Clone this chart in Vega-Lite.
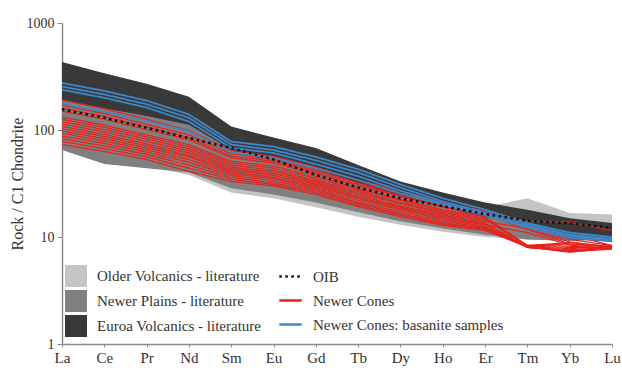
{
  "$schema": "https://vega.github.io/schema/vega-lite/v6.json",
  "width": 550,
  "height": 321,
  "autosize": "none",
  "padding": {"left": 62, "top": 23, "right": 10, "bottom": 24},
  "background": "white",
  "config": {
    "view": {"stroke": null},
    "font": "Liberation Serif",
    "axis": {
      "labelFont": "Liberation Serif",
      "titleFont": "Liberation Serif",
      "labelColor": "#333333",
      "titleColor": "#333333",
      "domainColor": "#8c8c8c",
      "tickColor": "#8c8c8c",
      "domainWidth": 1.5,
      "grid": false
    },
    "legend": {
      "labelFont": "Liberation Serif",
      "labelFontSize": 15,
      "labelColor": "#333333",
      "labelLimit": 400,
      "padding": 0,
      "orient": "none",
      "direction": "vertical",
      "rowPadding": 3,
      "labelOffset": 10
    }
  },
  "datasets": {
    "bands": [
      {"unit": "Older Volcanics - literature", "el": "La", "lo": 70, "hi": 172},
      {"unit": "Older Volcanics - literature", "el": "Ce", "lo": 55, "hi": 146},
      {"unit": "Older Volcanics - literature", "el": "Pr", "lo": 46, "hi": 121},
      {"unit": "Older Volcanics - literature", "el": "Nd", "lo": 38, "hi": 100},
      {"unit": "Older Volcanics - literature", "el": "Sm", "lo": 26, "hi": 62},
      {"unit": "Older Volcanics - literature", "el": "Eu", "lo": 23, "hi": 55},
      {"unit": "Older Volcanics - literature", "el": "Gd", "lo": 19, "hi": 42},
      {"unit": "Older Volcanics - literature", "el": "Tb", "lo": 15.5, "hi": 32},
      {"unit": "Older Volcanics - literature", "el": "Dy", "lo": 13, "hi": 25},
      {"unit": "Older Volcanics - literature", "el": "Ho", "lo": 11.2, "hi": 21},
      {"unit": "Older Volcanics - literature", "el": "Er", "lo": 10, "hi": 19},
      {"unit": "Older Volcanics - literature", "el": "Tm", "lo": 9.5, "hi": 23},
      {"unit": "Older Volcanics - literature", "el": "Yb", "lo": 9.3, "hi": 16.8},
      {"unit": "Older Volcanics - literature", "el": "Lu", "lo": 9.5, "hi": 16.2},
      {"unit": "Newer Plains - literature", "el": "La", "lo": 65, "hi": 190},
      {"unit": "Newer Plains - literature", "el": "Ce", "lo": 48, "hi": 165},
      {"unit": "Newer Plains - literature", "el": "Pr", "lo": 44, "hi": 140},
      {"unit": "Newer Plains - literature", "el": "Nd", "lo": 40, "hi": 115},
      {"unit": "Newer Plains - literature", "el": "Sm", "lo": 28.5, "hi": 68},
      {"unit": "Newer Plains - literature", "el": "Eu", "lo": 25, "hi": 58},
      {"unit": "Newer Plains - literature", "el": "Gd", "lo": 21, "hi": 45},
      {"unit": "Newer Plains - literature", "el": "Tb", "lo": 17, "hi": 34},
      {"unit": "Newer Plains - literature", "el": "Dy", "lo": 14, "hi": 25},
      {"unit": "Newer Plains - literature", "el": "Ho", "lo": 12, "hi": 20},
      {"unit": "Newer Plains - literature", "el": "Er", "lo": 10.5, "hi": 16},
      {"unit": "Newer Plains - literature", "el": "Tm", "lo": 9.5, "hi": 13},
      {"unit": "Newer Plains - literature", "el": "Yb", "lo": 9.2, "hi": 12.5},
      {"unit": "Newer Plains - literature", "el": "Lu", "lo": 9.5, "hi": 12},
      {"unit": "Euroa Volcanics - literature", "el": "La", "lo": 190, "hi": 432},
      {"unit": "Euroa Volcanics - literature", "el": "Ce", "lo": 160, "hi": 340},
      {"unit": "Euroa Volcanics - literature", "el": "Pr", "lo": 135, "hi": 270},
      {"unit": "Euroa Volcanics - literature", "el": "Nd", "lo": 112, "hi": 205},
      {"unit": "Euroa Volcanics - literature", "el": "Sm", "lo": 65, "hi": 108},
      {"unit": "Euroa Volcanics - literature", "el": "Eu", "lo": 56, "hi": 85},
      {"unit": "Euroa Volcanics - literature", "el": "Gd", "lo": 43, "hi": 68},
      {"unit": "Euroa Volcanics - literature", "el": "Tb", "lo": 32, "hi": 47},
      {"unit": "Euroa Volcanics - literature", "el": "Dy", "lo": 24, "hi": 33},
      {"unit": "Euroa Volcanics - literature", "el": "Ho", "lo": 19, "hi": 26},
      {"unit": "Euroa Volcanics - literature", "el": "Er", "lo": 15.5, "hi": 21},
      {"unit": "Euroa Volcanics - literature", "el": "Tm", "lo": 12.8, "hi": 18},
      {"unit": "Euroa Volcanics - literature", "el": "Yb", "lo": 9.6, "hi": 15},
      {"unit": "Euroa Volcanics - literature", "el": "Lu", "lo": 9, "hi": 13.5}
    ],
    "samples": [
      {"series": "OIB", "sample": "OIB", "el": "La", "v": 156},
      {"series": "OIB", "sample": "OIB", "el": "Ce", "v": 130},
      {"series": "OIB", "sample": "OIB", "el": "Pr", "v": 105},
      {"series": "OIB", "sample": "OIB", "el": "Nd", "v": 84},
      {"series": "OIB", "sample": "OIB", "el": "Sm", "v": 68},
      {"series": "OIB", "sample": "OIB", "el": "Eu", "v": 53},
      {"series": "OIB", "sample": "OIB", "el": "Gd", "v": 38},
      {"series": "OIB", "sample": "OIB", "el": "Tb", "v": 29},
      {"series": "OIB", "sample": "OIB", "el": "Dy", "v": 23},
      {"series": "OIB", "sample": "OIB", "el": "Ho", "v": 19.4},
      {"series": "OIB", "sample": "OIB", "el": "Er", "v": 16.4},
      {"series": "OIB", "sample": "OIB", "el": "Tm", "v": 14.2},
      {"series": "OIB", "sample": "OIB", "el": "Yb", "v": 13.4},
      {"series": "OIB", "sample": "OIB", "el": "Lu", "v": 12.2},

      {"series": "Newer Cones: basanite samples", "sample": "B1", "el": "La", "v": 275},
      {"series": "Newer Cones: basanite samples", "sample": "B1", "el": "Ce", "v": 232},
      {"series": "Newer Cones: basanite samples", "sample": "B1", "el": "Pr", "v": 188},
      {"series": "Newer Cones: basanite samples", "sample": "B1", "el": "Nd", "v": 140},
      {"series": "Newer Cones: basanite samples", "sample": "B1", "el": "Sm", "v": 78},
      {"series": "Newer Cones: basanite samples", "sample": "B1", "el": "Eu", "v": 70},
      {"series": "Newer Cones: basanite samples", "sample": "B1", "el": "Gd", "v": 56},
      {"series": "Newer Cones: basanite samples", "sample": "B1", "el": "Tb", "v": 43},
      {"series": "Newer Cones: basanite samples", "sample": "B1", "el": "Dy", "v": 31},
      {"series": "Newer Cones: basanite samples", "sample": "B1", "el": "Ho", "v": 23},
      {"series": "Newer Cones: basanite samples", "sample": "B1", "el": "Er", "v": 18},
      {"series": "Newer Cones: basanite samples", "sample": "B1", "el": "Tm", "v": 13.5},
      {"series": "Newer Cones: basanite samples", "sample": "B1", "el": "Yb", "v": 11},
      {"series": "Newer Cones: basanite samples", "sample": "B1", "el": "Lu", "v": 10},
      {"series": "Newer Cones: basanite samples", "sample": "B2", "el": "La", "v": 255},
      {"series": "Newer Cones: basanite samples", "sample": "B2", "el": "Ce", "v": 215},
      {"series": "Newer Cones: basanite samples", "sample": "B2", "el": "Pr", "v": 174},
      {"series": "Newer Cones: basanite samples", "sample": "B2", "el": "Nd", "v": 130},
      {"series": "Newer Cones: basanite samples", "sample": "B2", "el": "Sm", "v": 73},
      {"series": "Newer Cones: basanite samples", "sample": "B2", "el": "Eu", "v": 65},
      {"series": "Newer Cones: basanite samples", "sample": "B2", "el": "Gd", "v": 52},
      {"series": "Newer Cones: basanite samples", "sample": "B2", "el": "Tb", "v": 40},
      {"series": "Newer Cones: basanite samples", "sample": "B2", "el": "Dy", "v": 29},
      {"series": "Newer Cones: basanite samples", "sample": "B2", "el": "Ho", "v": 21.5},
      {"series": "Newer Cones: basanite samples", "sample": "B2", "el": "Er", "v": 17},
      {"series": "Newer Cones: basanite samples", "sample": "B2", "el": "Tm", "v": 13},
      {"series": "Newer Cones: basanite samples", "sample": "B2", "el": "Yb", "v": 10.5},
      {"series": "Newer Cones: basanite samples", "sample": "B2", "el": "Lu", "v": 9.6},
      {"series": "Newer Cones: basanite samples", "sample": "B3", "el": "La", "v": 238},
      {"series": "Newer Cones: basanite samples", "sample": "B3", "el": "Ce", "v": 200},
      {"series": "Newer Cones: basanite samples", "sample": "B3", "el": "Pr", "v": 162},
      {"series": "Newer Cones: basanite samples", "sample": "B3", "el": "Nd", "v": 120},
      {"series": "Newer Cones: basanite samples", "sample": "B3", "el": "Sm", "v": 68},
      {"series": "Newer Cones: basanite samples", "sample": "B3", "el": "Eu", "v": 61},
      {"series": "Newer Cones: basanite samples", "sample": "B3", "el": "Gd", "v": 48},
      {"series": "Newer Cones: basanite samples", "sample": "B3", "el": "Tb", "v": 37},
      {"series": "Newer Cones: basanite samples", "sample": "B3", "el": "Dy", "v": 27},
      {"series": "Newer Cones: basanite samples", "sample": "B3", "el": "Ho", "v": 20.5},
      {"series": "Newer Cones: basanite samples", "sample": "B3", "el": "Er", "v": 16.5},
      {"series": "Newer Cones: basanite samples", "sample": "B3", "el": "Tm", "v": 12.5},
      {"series": "Newer Cones: basanite samples", "sample": "B3", "el": "Yb", "v": 10.2},
      {"series": "Newer Cones: basanite samples", "sample": "B3", "el": "Lu", "v": 9.4},
      {"series": "Newer Cones: basanite samples", "sample": "B4", "el": "La", "v": 175},
      {"series": "Newer Cones: basanite samples", "sample": "B4", "el": "Ce", "v": 148},
      {"series": "Newer Cones: basanite samples", "sample": "B4", "el": "Pr", "v": 122},
      {"series": "Newer Cones: basanite samples", "sample": "B4", "el": "Nd", "v": 97},
      {"series": "Newer Cones: basanite samples", "sample": "B4", "el": "Sm", "v": 62},
      {"series": "Newer Cones: basanite samples", "sample": "B4", "el": "Eu", "v": 55},
      {"series": "Newer Cones: basanite samples", "sample": "B4", "el": "Gd", "v": 44},
      {"series": "Newer Cones: basanite samples", "sample": "B4", "el": "Tb", "v": 34},
      {"series": "Newer Cones: basanite samples", "sample": "B4", "el": "Dy", "v": 25.5},
      {"series": "Newer Cones: basanite samples", "sample": "B4", "el": "Ho", "v": 20},
      {"series": "Newer Cones: basanite samples", "sample": "B4", "el": "Er", "v": 16},
      {"series": "Newer Cones: basanite samples", "sample": "B4", "el": "Tm", "v": 12.2},
      {"series": "Newer Cones: basanite samples", "sample": "B4", "el": "Yb", "v": 9.8},
      {"series": "Newer Cones: basanite samples", "sample": "B4", "el": "Lu", "v": 9.2},

      {"series": "Newer Cones", "sample": "R1", "el": "La", "v": 190},
      {"series": "Newer Cones", "sample": "R1", "el": "Ce", "v": 158},
      {"series": "Newer Cones", "sample": "R1", "el": "Pr", "v": 126},
      {"series": "Newer Cones", "sample": "R1", "el": "Nd", "v": 99},
      {"series": "Newer Cones", "sample": "R1", "el": "Sm", "v": 64},
      {"series": "Newer Cones", "sample": "R1", "el": "Eu", "v": 57},
      {"series": "Newer Cones", "sample": "R1", "el": "Gd", "v": 45},
      {"series": "Newer Cones", "sample": "R1", "el": "Tb", "v": 34},
      {"series": "Newer Cones", "sample": "R1", "el": "Dy", "v": 27},
      {"series": "Newer Cones", "sample": "R1", "el": "Ho", "v": 21},
      {"series": "Newer Cones", "sample": "R1", "el": "Er", "v": 17.5},
      {"series": "Newer Cones", "sample": "R1", "el": "Tm", "v": 14},
      {"series": "Newer Cones", "sample": "R1", "el": "Yb", "v": 13.8},
      {"series": "Newer Cones", "sample": "R1", "el": "Lu", "v": 11.5},
      {"series": "Newer Cones", "sample": "R2", "el": "La", "v": 170},
      {"series": "Newer Cones", "sample": "R2", "el": "Ce", "v": 142},
      {"series": "Newer Cones", "sample": "R2", "el": "Pr", "v": 113},
      {"series": "Newer Cones", "sample": "R2", "el": "Nd", "v": 90},
      {"series": "Newer Cones", "sample": "R2", "el": "Sm", "v": 60},
      {"series": "Newer Cones", "sample": "R2", "el": "Eu", "v": 53},
      {"series": "Newer Cones", "sample": "R2", "el": "Gd", "v": 42},
      {"series": "Newer Cones", "sample": "R2", "el": "Tb", "v": 32},
      {"series": "Newer Cones", "sample": "R2", "el": "Dy", "v": 25.5},
      {"series": "Newer Cones", "sample": "R2", "el": "Ho", "v": 20},
      {"series": "Newer Cones", "sample": "R2", "el": "Er", "v": 16.5},
      {"series": "Newer Cones", "sample": "R2", "el": "Tm", "v": 12.5},
      {"series": "Newer Cones", "sample": "R2", "el": "Yb", "v": 10.5},
      {"series": "Newer Cones", "sample": "R2", "el": "Lu", "v": 8.3},
      {"series": "Newer Cones", "sample": "R3", "el": "La", "v": 150},
      {"series": "Newer Cones", "sample": "R3", "el": "Ce", "v": 126},
      {"series": "Newer Cones", "sample": "R3", "el": "Pr", "v": 101},
      {"series": "Newer Cones", "sample": "R3", "el": "Nd", "v": 81},
      {"series": "Newer Cones", "sample": "R3", "el": "Sm", "v": 55},
      {"series": "Newer Cones", "sample": "R3", "el": "Eu", "v": 49},
      {"series": "Newer Cones", "sample": "R3", "el": "Gd", "v": 39},
      {"series": "Newer Cones", "sample": "R3", "el": "Tb", "v": 30},
      {"series": "Newer Cones", "sample": "R3", "el": "Dy", "v": 24},
      {"series": "Newer Cones", "sample": "R3", "el": "Ho", "v": 19},
      {"series": "Newer Cones", "sample": "R3", "el": "Er", "v": 16},
      {"series": "Newer Cones", "sample": "R3", "el": "Tm", "v": 11.8},
      {"series": "Newer Cones", "sample": "R3", "el": "Yb", "v": 8.6},
      {"series": "Newer Cones", "sample": "R3", "el": "Lu", "v": 8},
      {"series": "Newer Cones", "sample": "R4", "el": "La", "v": 132},
      {"series": "Newer Cones", "sample": "R4", "el": "Ce", "v": 111},
      {"series": "Newer Cones", "sample": "R4", "el": "Pr", "v": 90},
      {"series": "Newer Cones", "sample": "R4", "el": "Nd", "v": 73},
      {"series": "Newer Cones", "sample": "R4", "el": "Sm", "v": 51},
      {"series": "Newer Cones", "sample": "R4", "el": "Eu", "v": 46},
      {"series": "Newer Cones", "sample": "R4", "el": "Gd", "v": 37},
      {"series": "Newer Cones", "sample": "R4", "el": "Tb", "v": 28.5},
      {"series": "Newer Cones", "sample": "R4", "el": "Dy", "v": 22.5},
      {"series": "Newer Cones", "sample": "R4", "el": "Ho", "v": 18},
      {"series": "Newer Cones", "sample": "R4", "el": "Er", "v": 15.5},
      {"series": "Newer Cones", "sample": "R4", "el": "Tm", "v": 8.3},
      {"series": "Newer Cones", "sample": "R4", "el": "Yb", "v": 8.9},
      {"series": "Newer Cones", "sample": "R4", "el": "Lu", "v": 8.1},
      {"series": "Newer Cones", "sample": "R5", "el": "La", "v": 126},
      {"series": "Newer Cones", "sample": "R5", "el": "Ce", "v": 106},
      {"series": "Newer Cones", "sample": "R5", "el": "Pr", "v": 86},
      {"series": "Newer Cones", "sample": "R5", "el": "Nd", "v": 70},
      {"series": "Newer Cones", "sample": "R5", "el": "Sm", "v": 49},
      {"series": "Newer Cones", "sample": "R5", "el": "Eu", "v": 44},
      {"series": "Newer Cones", "sample": "R5", "el": "Gd", "v": 35.5},
      {"series": "Newer Cones", "sample": "R5", "el": "Tb", "v": 27.5},
      {"series": "Newer Cones", "sample": "R5", "el": "Dy", "v": 22},
      {"series": "Newer Cones", "sample": "R5", "el": "Ho", "v": 17.5},
      {"series": "Newer Cones", "sample": "R5", "el": "Er", "v": 15},
      {"series": "Newer Cones", "sample": "R5", "el": "Tm", "v": 8},
      {"series": "Newer Cones", "sample": "R5", "el": "Yb", "v": 7.6},
      {"series": "Newer Cones", "sample": "R5", "el": "Lu", "v": 8},
      {"series": "Newer Cones", "sample": "R6", "el": "La", "v": 120},
      {"series": "Newer Cones", "sample": "R6", "el": "Ce", "v": 101},
      {"series": "Newer Cones", "sample": "R6", "el": "Pr", "v": 82},
      {"series": "Newer Cones", "sample": "R6", "el": "Nd", "v": 67},
      {"series": "Newer Cones", "sample": "R6", "el": "Sm", "v": 47},
      {"series": "Newer Cones", "sample": "R6", "el": "Eu", "v": 42},
      {"series": "Newer Cones", "sample": "R6", "el": "Gd", "v": 34},
      {"series": "Newer Cones", "sample": "R6", "el": "Tb", "v": 26.5},
      {"series": "Newer Cones", "sample": "R6", "el": "Dy", "v": 21},
      {"series": "Newer Cones", "sample": "R6", "el": "Ho", "v": 17},
      {"series": "Newer Cones", "sample": "R6", "el": "Er", "v": 14.5},
      {"series": "Newer Cones", "sample": "R6", "el": "Tm", "v": 8.4},
      {"series": "Newer Cones", "sample": "R6", "el": "Yb", "v": 8.2},
      {"series": "Newer Cones", "sample": "R6", "el": "Lu", "v": 7.8},
      {"series": "Newer Cones", "sample": "R7", "el": "La", "v": 114},
      {"series": "Newer Cones", "sample": "R7", "el": "Ce", "v": 96},
      {"series": "Newer Cones", "sample": "R7", "el": "Pr", "v": 78},
      {"series": "Newer Cones", "sample": "R7", "el": "Nd", "v": 64},
      {"series": "Newer Cones", "sample": "R7", "el": "Sm", "v": 45},
      {"series": "Newer Cones", "sample": "R7", "el": "Eu", "v": 40.5},
      {"series": "Newer Cones", "sample": "R7", "el": "Gd", "v": 33},
      {"series": "Newer Cones", "sample": "R7", "el": "Tb", "v": 25.5},
      {"series": "Newer Cones", "sample": "R7", "el": "Dy", "v": 20.5},
      {"series": "Newer Cones", "sample": "R7", "el": "Ho", "v": 16.5},
      {"series": "Newer Cones", "sample": "R7", "el": "Er", "v": 14},
      {"series": "Newer Cones", "sample": "R7", "el": "Tm", "v": 12},
      {"series": "Newer Cones", "sample": "R7", "el": "Yb", "v": 9},
      {"series": "Newer Cones", "sample": "R7", "el": "Lu", "v": 8},
      {"series": "Newer Cones", "sample": "R8", "el": "La", "v": 108},
      {"series": "Newer Cones", "sample": "R8", "el": "Ce", "v": 91},
      {"series": "Newer Cones", "sample": "R8", "el": "Pr", "v": 74},
      {"series": "Newer Cones", "sample": "R8", "el": "Nd", "v": 61},
      {"series": "Newer Cones", "sample": "R8", "el": "Sm", "v": 43.5},
      {"series": "Newer Cones", "sample": "R8", "el": "Eu", "v": 39},
      {"series": "Newer Cones", "sample": "R8", "el": "Gd", "v": 32},
      {"series": "Newer Cones", "sample": "R8", "el": "Tb", "v": 24.5},
      {"series": "Newer Cones", "sample": "R8", "el": "Dy", "v": 19.5},
      {"series": "Newer Cones", "sample": "R8", "el": "Ho", "v": 16},
      {"series": "Newer Cones", "sample": "R8", "el": "Er", "v": 13.5},
      {"series": "Newer Cones", "sample": "R8", "el": "Tm", "v": 8},
      {"series": "Newer Cones", "sample": "R8", "el": "Yb", "v": 7.4},
      {"series": "Newer Cones", "sample": "R8", "el": "Lu", "v": 7.9},
      {"series": "Newer Cones", "sample": "R9", "el": "La", "v": 103},
      {"series": "Newer Cones", "sample": "R9", "el": "Ce", "v": 87},
      {"series": "Newer Cones", "sample": "R9", "el": "Pr", "v": 71},
      {"series": "Newer Cones", "sample": "R9", "el": "Nd", "v": 58},
      {"series": "Newer Cones", "sample": "R9", "el": "Sm", "v": 42},
      {"series": "Newer Cones", "sample": "R9", "el": "Eu", "v": 37.5},
      {"series": "Newer Cones", "sample": "R9", "el": "Gd", "v": 31},
      {"series": "Newer Cones", "sample": "R9", "el": "Tb", "v": 23.5},
      {"series": "Newer Cones", "sample": "R9", "el": "Dy", "v": 19},
      {"series": "Newer Cones", "sample": "R9", "el": "Ho", "v": 15.5},
      {"series": "Newer Cones", "sample": "R9", "el": "Er", "v": 13.2},
      {"series": "Newer Cones", "sample": "R9", "el": "Tm", "v": 8.1},
      {"series": "Newer Cones", "sample": "R9", "el": "Yb", "v": 7.8},
      {"series": "Newer Cones", "sample": "R9", "el": "Lu", "v": 8.1},
      {"series": "Newer Cones", "sample": "R10", "el": "La", "v": 98},
      {"series": "Newer Cones", "sample": "R10", "el": "Ce", "v": 83},
      {"series": "Newer Cones", "sample": "R10", "el": "Pr", "v": 68},
      {"series": "Newer Cones", "sample": "R10", "el": "Nd", "v": 56},
      {"series": "Newer Cones", "sample": "R10", "el": "Sm", "v": 40.5},
      {"series": "Newer Cones", "sample": "R10", "el": "Eu", "v": 36},
      {"series": "Newer Cones", "sample": "R10", "el": "Gd", "v": 30},
      {"series": "Newer Cones", "sample": "R10", "el": "Tb", "v": 23},
      {"series": "Newer Cones", "sample": "R10", "el": "Dy", "v": 18.5},
      {"series": "Newer Cones", "sample": "R10", "el": "Ho", "v": 15},
      {"series": "Newer Cones", "sample": "R10", "el": "Er", "v": 13},
      {"series": "Newer Cones", "sample": "R10", "el": "Tm", "v": 11},
      {"series": "Newer Cones", "sample": "R10", "el": "Yb", "v": 8.4},
      {"series": "Newer Cones", "sample": "R10", "el": "Lu", "v": 7.8},
      {"series": "Newer Cones", "sample": "R11", "el": "La", "v": 93},
      {"series": "Newer Cones", "sample": "R11", "el": "Ce", "v": 79},
      {"series": "Newer Cones", "sample": "R11", "el": "Pr", "v": 65},
      {"series": "Newer Cones", "sample": "R11", "el": "Nd", "v": 53},
      {"series": "Newer Cones", "sample": "R11", "el": "Sm", "v": 39},
      {"series": "Newer Cones", "sample": "R11", "el": "Eu", "v": 35},
      {"series": "Newer Cones", "sample": "R11", "el": "Gd", "v": 29},
      {"series": "Newer Cones", "sample": "R11", "el": "Tb", "v": 22},
      {"series": "Newer Cones", "sample": "R11", "el": "Dy", "v": 18},
      {"series": "Newer Cones", "sample": "R11", "el": "Ho", "v": 14.5},
      {"series": "Newer Cones", "sample": "R11", "el": "Er", "v": 12.6},
      {"series": "Newer Cones", "sample": "R11", "el": "Tm", "v": 8},
      {"series": "Newer Cones", "sample": "R11", "el": "Yb", "v": 7.3},
      {"series": "Newer Cones", "sample": "R11", "el": "Lu", "v": 7.7},
      {"series": "Newer Cones", "sample": "R12", "el": "La", "v": 88},
      {"series": "Newer Cones", "sample": "R12", "el": "Ce", "v": 75},
      {"series": "Newer Cones", "sample": "R12", "el": "Pr", "v": 62},
      {"series": "Newer Cones", "sample": "R12", "el": "Nd", "v": 50},
      {"series": "Newer Cones", "sample": "R12", "el": "Sm", "v": 37.5},
      {"series": "Newer Cones", "sample": "R12", "el": "Eu", "v": 33.5},
      {"series": "Newer Cones", "sample": "R12", "el": "Gd", "v": 28},
      {"series": "Newer Cones", "sample": "R12", "el": "Tb", "v": 21},
      {"series": "Newer Cones", "sample": "R12", "el": "Dy", "v": 17.2},
      {"series": "Newer Cones", "sample": "R12", "el": "Ho", "v": 14},
      {"series": "Newer Cones", "sample": "R12", "el": "Er", "v": 12.3},
      {"series": "Newer Cones", "sample": "R12", "el": "Tm", "v": 8.2},
      {"series": "Newer Cones", "sample": "R12", "el": "Yb", "v": 8},
      {"series": "Newer Cones", "sample": "R12", "el": "Lu", "v": 8},
      {"series": "Newer Cones", "sample": "R13", "el": "La", "v": 83},
      {"series": "Newer Cones", "sample": "R13", "el": "Ce", "v": 71},
      {"series": "Newer Cones", "sample": "R13", "el": "Pr", "v": 59},
      {"series": "Newer Cones", "sample": "R13", "el": "Nd", "v": 47},
      {"series": "Newer Cones", "sample": "R13", "el": "Sm", "v": 36},
      {"series": "Newer Cones", "sample": "R13", "el": "Eu", "v": 32},
      {"series": "Newer Cones", "sample": "R13", "el": "Gd", "v": 27},
      {"series": "Newer Cones", "sample": "R13", "el": "Tb", "v": 20.5},
      {"series": "Newer Cones", "sample": "R13", "el": "Dy", "v": 16.5},
      {"series": "Newer Cones", "sample": "R13", "el": "Ho", "v": 13.5},
      {"series": "Newer Cones", "sample": "R13", "el": "Er", "v": 12},
      {"series": "Newer Cones", "sample": "R13", "el": "Tm", "v": 8},
      {"series": "Newer Cones", "sample": "R13", "el": "Yb", "v": 7.5},
      {"series": "Newer Cones", "sample": "R13", "el": "Lu", "v": 7.8},
      {"series": "Newer Cones", "sample": "R14", "el": "La", "v": 78},
      {"series": "Newer Cones", "sample": "R14", "el": "Ce", "v": 67},
      {"series": "Newer Cones", "sample": "R14", "el": "Pr", "v": 56},
      {"series": "Newer Cones", "sample": "R14", "el": "Nd", "v": 44},
      {"series": "Newer Cones", "sample": "R14", "el": "Sm", "v": 34.5},
      {"series": "Newer Cones", "sample": "R14", "el": "Eu", "v": 31},
      {"series": "Newer Cones", "sample": "R14", "el": "Gd", "v": 26},
      {"series": "Newer Cones", "sample": "R14", "el": "Tb", "v": 19.8},
      {"series": "Newer Cones", "sample": "R14", "el": "Dy", "v": 16},
      {"series": "Newer Cones", "sample": "R14", "el": "Ho", "v": 13.2},
      {"series": "Newer Cones", "sample": "R14", "el": "Er", "v": 11.8},
      {"series": "Newer Cones", "sample": "R14", "el": "Tm", "v": 8.3},
      {"series": "Newer Cones", "sample": "R14", "el": "Yb", "v": 8.6},
      {"series": "Newer Cones", "sample": "R14", "el": "Lu", "v": 8.2},
      {"series": "Newer Cones", "sample": "R15", "el": "La", "v": 73},
      {"series": "Newer Cones", "sample": "R15", "el": "Ce", "v": 63},
      {"series": "Newer Cones", "sample": "R15", "el": "Pr", "v": 53},
      {"series": "Newer Cones", "sample": "R15", "el": "Nd", "v": 41},
      {"series": "Newer Cones", "sample": "R15", "el": "Sm", "v": 33},
      {"series": "Newer Cones", "sample": "R15", "el": "Eu", "v": 30},
      {"series": "Newer Cones", "sample": "R15", "el": "Gd", "v": 25},
      {"series": "Newer Cones", "sample": "R15", "el": "Tb", "v": 19.2},
      {"series": "Newer Cones", "sample": "R15", "el": "Dy", "v": 15.5},
      {"series": "Newer Cones", "sample": "R15", "el": "Ho", "v": 12.8},
      {"series": "Newer Cones", "sample": "R15", "el": "Er", "v": 11.5},
      {"series": "Newer Cones", "sample": "R15", "el": "Tm", "v": 8.1},
      {"series": "Newer Cones", "sample": "R15", "el": "Yb", "v": 7.2},
      {"series": "Newer Cones", "sample": "R15", "el": "Lu", "v": 7.9},
      {"series": "Newer Cones", "sample": "R16", "el": "La", "v": 160},
      {"series": "Newer Cones", "sample": "R16", "el": "Ce", "v": 134},
      {"series": "Newer Cones", "sample": "R16", "el": "Pr", "v": 107},
      {"series": "Newer Cones", "sample": "R16", "el": "Nd", "v": 85},
      {"series": "Newer Cones", "sample": "R16", "el": "Sm", "v": 57},
      {"series": "Newer Cones", "sample": "R16", "el": "Eu", "v": 51},
      {"series": "Newer Cones", "sample": "R16", "el": "Gd", "v": 40.5},
      {"series": "Newer Cones", "sample": "R16", "el": "Tb", "v": 31},
      {"series": "Newer Cones", "sample": "R16", "el": "Dy", "v": 24.5},
      {"series": "Newer Cones", "sample": "R16", "el": "Ho", "v": 19.5},
      {"series": "Newer Cones", "sample": "R16", "el": "Er", "v": 16.2},
      {"series": "Newer Cones", "sample": "R16", "el": "Tm", "v": 12.2},
      {"series": "Newer Cones", "sample": "R16", "el": "Yb", "v": 9.5},
      {"series": "Newer Cones", "sample": "R16", "el": "Lu", "v": 8.3}
    ]
  },
  "encoding": {
    "x": {
      "field": "el",
      "type": "ordinal",
      "sort": ["La", "Ce", "Pr", "Nd", "Sm", "Eu", "Gd", "Tb", "Dy", "Ho", "Er", "Tm", "Yb", "Lu"],
      "scale": {"type": "point", "padding": 0},
      "axis": {"title": null, "labelFont": "Liberation Serif", "labelFontSize": 15, "labelColor": "#333333", "labelAngle": 0, "tickSize": 3, "labelPadding": 3}
    }
  },
  "layer": [
    {
      "data": {"name": "bands"},
      "transform": [{"filter": "datum.unit === 'Older Volcanics - literature'"}],
      "mark": {"type": "area", "opacity": 1},
      "encoding": {
        "y": {"field": "lo", "type": "quantitative", "scale": {"type": "log", "domain": [1, 1000], "nice": false},
              "axis": {"title": "Rock / C1 Chondrite", "titleFont": "Liberation Serif", "titleFontSize": 16, "titleFontWeight": "normal", "labelFont": "Liberation Serif", "labelFontSize": 14, "labelColor": "#333333", "values": [1, 10, 100, 1000], "format": "d", "tickSize": 5, "labelPadding": 3, "titlePadding": 1}},
        "y2": {"field": "hi"},
        "fill": {"field": "unit", "type": "nominal",
                 "scale": {"domain": ["Older Volcanics - literature", "Newer Plains - literature", "Euroa Volcanics - literature"], "range": ["#c4c4c4", "#808080", "#393939"]},
                 "legend": {"title": null, "legendX": 3, "legendY": 242, "symbolType": "square", "symbolSize": 484, "symbolStrokeWidth": 0, "symbolOpacity": 1, "labelFont": "Liberation Serif", "labelFontSize": 15, "labelLimit": 400}}
      }
    },
    {
      "data": {"name": "bands"},
      "transform": [{"filter": "datum.unit === 'Newer Plains - literature'"}],
      "mark": {"type": "area", "opacity": 1},
      "encoding": {
        "y": {"field": "lo", "type": "quantitative"},
        "y2": {"field": "hi"},
        "fill": {"field": "unit", "type": "nominal"}
      }
    },
    {
      "data": {"name": "bands"},
      "transform": [{"filter": "datum.unit === 'Euroa Volcanics - literature'"}],
      "mark": {"type": "area", "opacity": 1},
      "encoding": {
        "y": {"field": "lo", "type": "quantitative"},
        "y2": {"field": "hi"},
        "fill": {"field": "unit", "type": "nominal"}
      }
    },
    {
      "data": {"name": "samples"},
      "transform": [{"filter": "datum.series === 'Newer Cones'"}],
      "mark": {"type": "line", "strokeWidth": 1.2},
      "encoding": {
        "y": {"field": "v", "type": "quantitative"},
        "detail": {"field": "sample"},
        "stroke": {"field": "series", "type": "nominal",
                   "scale": {"domain": ["OIB", "Newer Cones", "Newer Cones: basanite samples"], "range": ["#111111", "#e8221b", "#3f86c6"]},
                   "legend": {"title": null, "legendX": 216, "legendY": 241, "symbolType": "stroke", "symbolSize": 500, "symbolStrokeWidth": 2.5, "labelFont": "Liberation Serif", "labelFontSize": 15, "labelLimit": 400}},
        "strokeDash": {"field": "series", "type": "nominal",
                       "scale": {"domain": ["OIB", "Newer Cones", "Newer Cones: basanite samples"], "range": [[2.5, 3.5], [1, 0], [1, 0]]},
                       "legend": {"title": null, "legendX": 216, "legendY": 241, "symbolType": "stroke", "symbolSize": 500, "symbolStrokeWidth": 2.5, "labelFont": "Liberation Serif", "labelFontSize": 15, "labelLimit": 400}}
      }
    },
    {
      "data": {"name": "samples"},
      "transform": [{"filter": "datum.series === 'Newer Cones: basanite samples'"}],
      "mark": {"type": "line", "strokeWidth": 1.8},
      "encoding": {
        "y": {"field": "v", "type": "quantitative"},
        "detail": {"field": "sample"},
        "stroke": {"field": "series", "type": "nominal"},
        "strokeDash": {"field": "series", "type": "nominal"}
      }
    },
    {
      "data": {"name": "samples"},
      "transform": [{"filter": "datum.series === 'OIB'"}],
      "mark": {"type": "line", "strokeWidth": 2.5},
      "encoding": {
        "y": {"field": "v", "type": "quantitative"},
        "detail": {"field": "sample"},
        "stroke": {"field": "series", "type": "nominal"},
        "strokeDash": {"field": "series", "type": "nominal"}
      }
    }
  ]
}
